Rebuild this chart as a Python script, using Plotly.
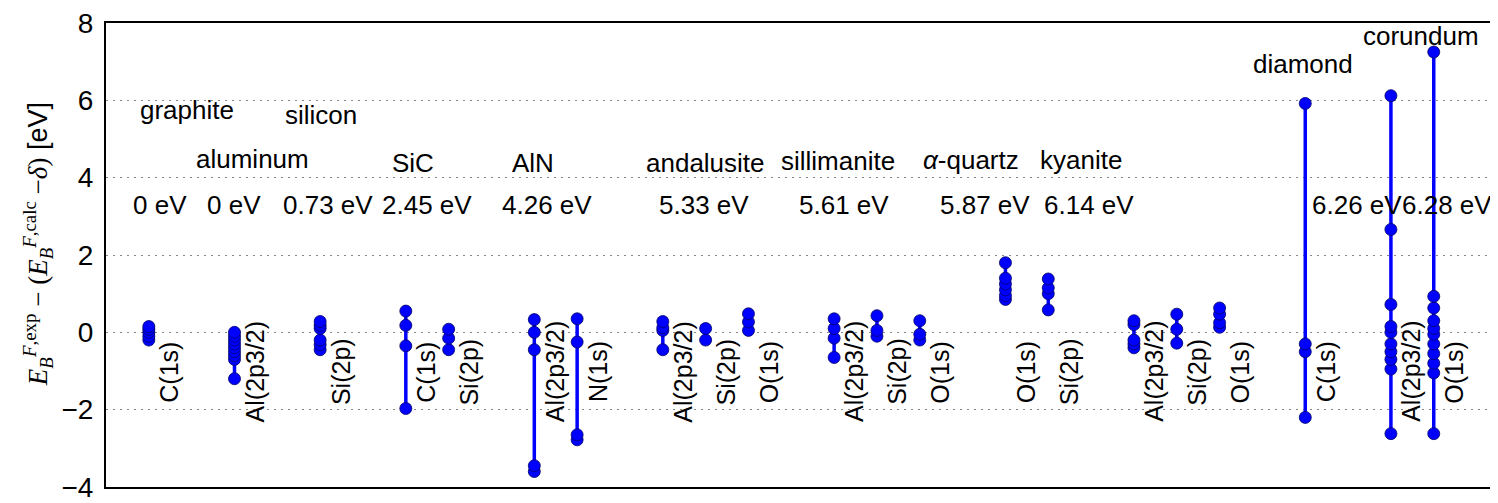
import plotly.graph_objects as go

# ---- data ----
materials = ["graphite", "aluminum", "silicon", "SiC", "AlN", "andalusite",
             "sillimanite", "<i>α</i>-quartz", "kyanite", "diamond", "corundum"]
gap_labels = ["0 eV", "0 eV", "0.73 eV", "2.45 eV", "4.26 eV", "5.33 eV",
              "5.61 eV", "5.87 eV", "6.14 eV", "6.26 eV", "6.28 eV"]
core_levels = [
    ["C(1s)"], ["Al(2p3/2)"], ["Si(2p)"], ["C(1s)", "Si(2p)"], ["Al(2p3/2)", "N(1s)"],
    ["Al(2p3/2)", "Si(2p)", "O(1s)"], ["Al(2p3/2)", "Si(2p)", "O(1s)"],
    ["O(1s)", "Si(2p)"], ["Al(2p3/2)", "Si(2p)", "O(1s)"], ["C(1s)"], ["Al(2p3/2)", "O(1s)"],
]

graphite_C1s = [0.15, 0.08, 0.0, -0.1, -0.2]
aluminum_Al2p = [0.0, -0.1, -0.2, -0.3, -0.4, -0.5, -0.6, -0.7, -1.2]
silicon_Si2p = [0.28, 0.18, 0.1, -0.2, -0.32, -0.45]
SiC_C1s = [0.55, 0.18, -0.35, -1.97]
SiC_Si2p = [0.08, -0.15, -0.45]
AlN_Al2p = [0.33, 0.0, -0.45, -3.45, -3.6]
AlN_N1s = [0.35, -0.25, -2.65, -2.78]
andalusite_Al2p = [0.28, 0.12, 0.05, -0.45]
andalusite_Si2p = [0.1, -0.2]
andalusite_O1s = [0.48, 0.27, 0.05]
sillimanite_Al2p = [0.35, 0.1, -0.15, -0.65]
sillimanite_Si2p = [0.43, 0.05, -0.1]
sillimanite_O1s = [0.3, -0.05, -0.2]
quartz_O1s = [1.8, 1.4, 1.25, 1.1, 0.95, 0.85]
quartz_Si2p = [1.38, 1.15, 1.0, 0.58]
kyanite_Al2p = [0.3, 0.2, -0.2, -0.3, -0.4]
kyanite_Si2p = [0.47, 0.08, -0.28]
kyanite_O1s = [0.63, 0.47, 0.25, 0.13]
diamond_C1s = [5.92, -0.3, -0.5, -2.2]
corundum_Al2p = [6.12, 2.66, 0.72, 0.15, 0.0, -0.3, -0.5, -0.7, -0.95, -2.62]
corundum_O1s = [7.25, 0.93, 0.63, 0.3, 0.1, -0.05, -0.3, -0.55, -0.8, -1.05, -2.62]

series = [
    [graphite_C1s], [aluminum_Al2p], [silicon_Si2p], [SiC_C1s, SiC_Si2p], [AlN_Al2p, AlN_N1s],
    [andalusite_Al2p, andalusite_Si2p, andalusite_O1s],
    [sillimanite_Al2p, sillimanite_Si2p, sillimanite_O1s],
    [quartz_O1s, quartz_Si2p], [kyanite_Al2p, kyanite_Si2p, kyanite_O1s],
    [diamond_C1s], [corundum_Al2p, corundum_O1s],
]

# ---- label placement (layout) ----
name_x = [1.9, 3.42, 5.02, 7.17, 9.97, 13.99, 17.09, 20.2, 22.76, 27.95, 30.7]
name_y = [5.76, 4.49, 5.62, 4.37, 4.37, 4.39, 4.43, 4.45, 4.45, 6.93, 7.66]
gap_x = [1.26, 2.99, 5.18, 7.49, 10.3, 13.96, 17.24, 20.52, 22.95, 29.2, 31.3]
gap_y = 3.3

FONT = "Liberation Sans, Arial, Helvetica, sans-serif"
fig = go.Figure()
annotations = []

pos = 1
for gi, (levels, vals_list) in enumerate(zip(core_levels, series)):
    for li, (lvl, vals) in enumerate(zip(levels, vals_list)):
        xc = pos + li
        fig.add_trace(go.Scatter(
            x=[xc] * len(vals), y=sorted(vals), mode="lines+markers",
            line=dict(color="#0000ff", width=3.5),
            marker=dict(symbol="circle", size=12, color="#0000ff",
                        line=dict(color="#000066", width=0.8)),
            showlegend=False, hoverinfo="y"))
        annotations.append(dict(x=xc + 0.47, y=-1.02, xref="x", yref="y", text=lvl,
                                textangle=-90, showarrow=False, xanchor="center",
                                yanchor="middle", font=dict(size=25, color="black", family=FONT)))
    annotations.append(dict(x=name_x[gi], y=name_y[gi], xref="x", yref="y", text=materials[gi],
                            showarrow=False, xanchor="center", yanchor="middle",
                            font=dict(size=26, color="black", family=FONT)))
    annotations.append(dict(x=gap_x[gi], y=gap_y, xref="x", yref="y", text=gap_labels[gi],
                            showarrow=False, xanchor="center", yanchor="middle",
                            font=dict(size=26, color="black", family=FONT)))
    pos += len(levels) + 1

ytitle = ('<span style="font-family:Liberation Serif">'
          '<i>E</i><sub><i>B</i></sub><sup><i>F</i>,exp</sup> − (<i>E</i><sub><i>B</i></sub>'
          '<sup><i>F</i>,calc</sup> −<i>δ</i>)</span> [eV]')
annotations.append(dict(x=-(106 - 38) / 1392, y=2.28, xref="paper", yref="y", text=ytitle,
                        textangle=-90, showarrow=False, xanchor="center", yanchor="middle",
                        font=dict(size=27, color="black", family=FONT)))

# page body has an 8px margin: compensate so the plot area spans x 106..1498, y 20..494
fig.update_layout(
    width=1490, height=495,
    margin=dict(l=98, r=0, t=12, b=9),
    paper_bgcolor="white", plot_bgcolor="white",
    annotations=annotations,
    xaxis=dict(range=[0, 32.5], showticklabels=False, ticks="", showgrid=False,
               zeroline=False, showline=True, linecolor="black", linewidth=2, mirror=True),
    yaxis=dict(range=[-4, 8], tickvals=[-4, -2, 0, 2, 4, 6, 8],
               ticktext=["−4", "−2", "0", "2", "4", "6", "8"],
               tickfont=dict(size=28, color="black", family=FONT),
               ticklabeloverflow="allow",
               showgrid=True, gridcolor="#888888", griddash="2px,5px", gridwidth=1.2,
               zeroline=False, showline=True, linecolor="black", linewidth=2,
               ticks="outside", ticklen=5, tickcolor="rgba(0,0,0,0)"),
)

fig.write_html("out.html")
